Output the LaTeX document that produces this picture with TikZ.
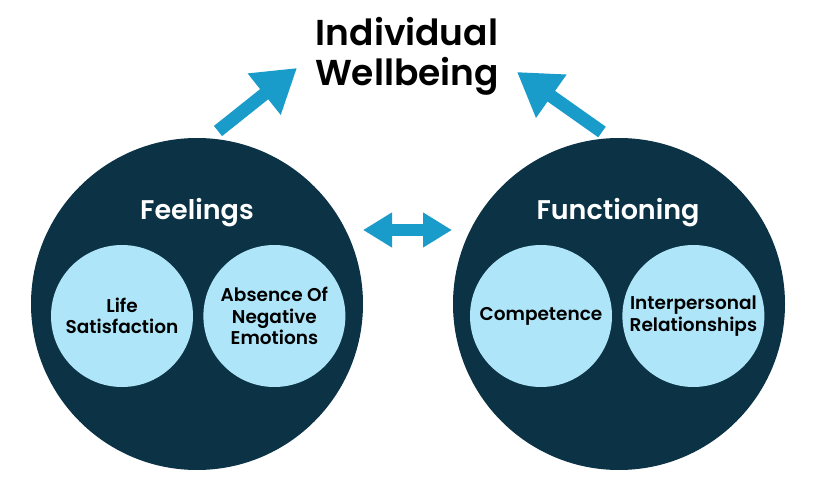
\documentclass[tikz,border=0pt]{standalone}
\usepackage{fontspec}
\setmainfont{Poppins}[BoldFont={Poppins SemiBold}]
\usepackage{tikz}
\usetikzlibrary{arrows.meta,positioning}
\definecolor{navy}{HTML}{0B3345}
\definecolor{pale}{HTML}{AEE5F8}
\definecolor{arrowblue}{HTML}{1A9CCB}

\begin{document}
\begin{tikzpicture}[
  x=1pt, y=-1pt,
  pillar/.style={circle, fill=navy, minimum size=332pt, inner sep=0pt},
  facet/.style={circle, fill=pale, minimum size=142pt, inner sep=0pt, align=center, text=black, font=\fontsize{18.5}{21.5}\selectfont\bfseries},
  head/.style={text=white, font=\fontsize{27}{30}\selectfont\bfseries},
  bigarrow/.style={-{Triangle[width=50pt,length=42pt]}, line width=13pt, arrowblue},
  linkarrow/.style={{Triangle[width=33pt,length=29pt]}-{Triangle[width=33pt,length=29pt]}, line width=11pt, arrowblue}
]
\useasboundingbox[fill=white] (0,0) rectangle (820,484);
\node[font=\fontsize{36}{40}\selectfont\bfseries, align=center] (title) at (407,56) {Individual\\Wellbeing};

% the two pillars
\node[pillar] (feel) at (197,304) {};
\node[pillar] (func) at (619,304) {};
\node[head] at (197,213) {Feelings};
\node[head] at (618,213) {Functioning};

\node[facet] (life) at (122,316) {Life\\Satisfaction};
\node[facet, right=10pt of life] (absence) {Absence Of\\Negative\\Emotions};
\node[facet] (comp) at (541,316) {Competence};
\node[facet, right=10pt of comp] (inter) {Interpersonal\\Relationships};

% arrows
\coordinate (feeltail) at (218,131);
\coordinate (feeltip) at (297,68);
\coordinate (functail) at (602,132);
\coordinate (functip) at (517,72);
\coordinate (linkl) at (363,230);
\coordinate (linkr) at (452,230);
\draw[bigarrow] (feeltail) -- (feeltip);
\draw[bigarrow] (functail) -- (functip);
\draw[linkarrow] (linkl) -- (linkr);
\end{tikzpicture}
\end{document}
